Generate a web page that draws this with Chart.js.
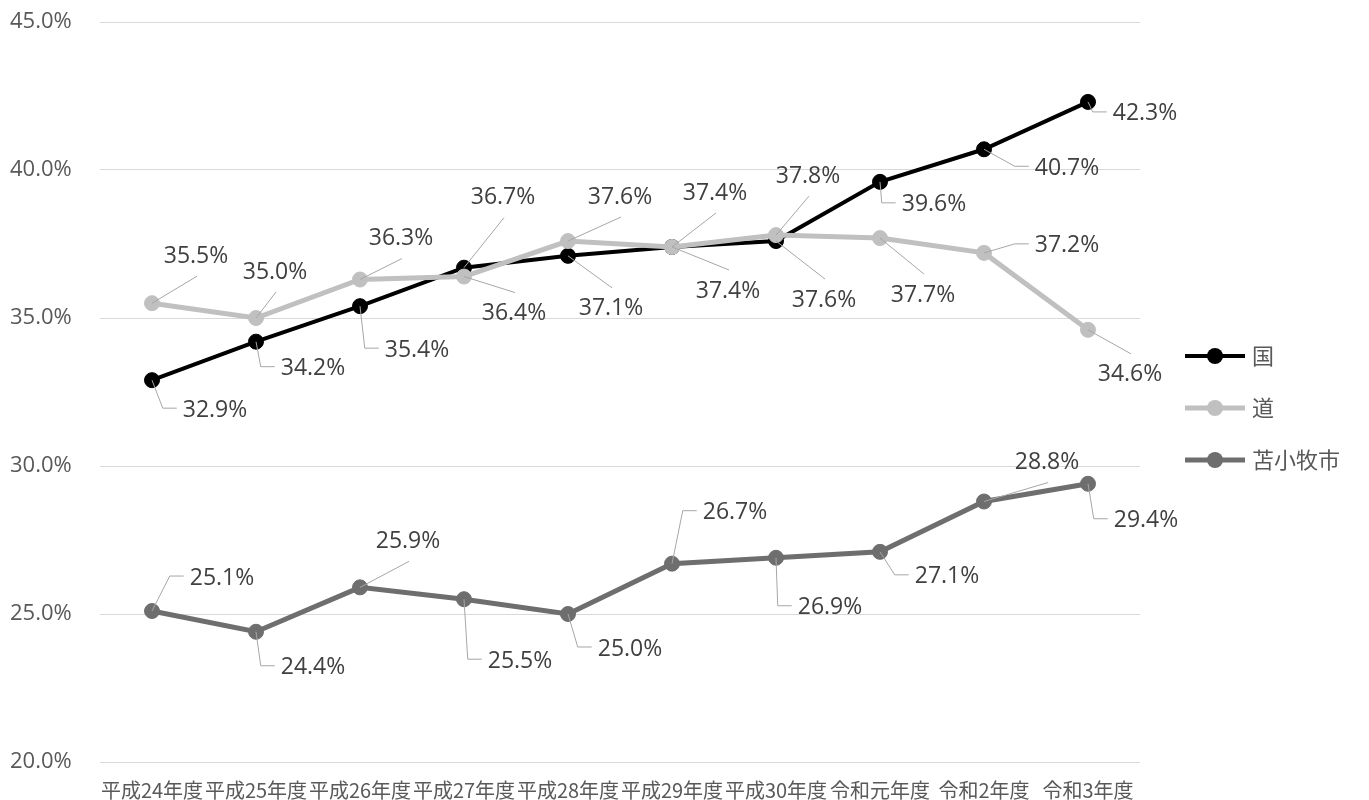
<!DOCTYPE html>
<html lang="ja">
<head>
<meta charset="utf-8">
<title>国・道・苫小牧市の推移</title>
<script src="https://cdn.jsdelivr.net/npm/chart.js@4.4.1/dist/chart.umd.min.js"></script>
<style>
    html, body { margin: 0; padding: 0; background: #fff; }
    #wrap { width: 1369px; height: 800px; }
</style>
</head>
<body>
<div id="wrap"><canvas id="chart" width="1369" height="800"></canvas></div>
<script>
// Data
const categories = ['平成24年度', '平成25年度', '平成26年度', '平成27年度', '平成28年度',
                    '平成29年度', '平成30年度', '令和元年度', '令和2年度', '令和3年度'];
const seriesNames = ['国', '道', '苫小牧市'];
const kuni = [32.9, 34.2, 35.4, 36.7, 37.1, 37.4, 37.6, 39.6, 40.7, 42.3];
const dou = [35.5, 35.0, 36.3, 36.4, 37.6, 37.4, 37.8, 37.7, 37.2, 34.6];
const tomakomai = [25.1, 24.4, 25.9, 25.5, 25.0, 26.7, 26.9, 27.1, 28.8, 29.4];
const yMin = 20;
const yMax = 45;
const yStep = 5;

const seriesColors = ['#000000', '#c0c0c0', '#6e6e6e'];
const seriesWidths = [4, 5, 5];

// Data label placement: [dx, dy, leader] relative to the point, e = elbow, d = diagonal
const labelLayout = [
    [[63, 30, 'e'], [57, 27, 'e'], [57, 44, 'e'], [39, -70, 'd'], [43, 53, 'd'],
     [43, -54, 'd'], [48, 59, 'd'], [54, 23, 'e'], [83, 19, 'e'], [57, 12, 'e']],
    [[44, -47, 'd'], [19, -46, 'd'], [41, -41, 'd'], [50, 37, 'd'], [52, -44, 'd'],
     [56, 44, 'd'], [32, -59, 'd'], [43, 57, 'd'], [83, -7, 'e'], [42, 45, 'd']],
    [[70, -33, 'e'], [57, 36, 'e'], [48, -46, 'd'], [56, 62, 'e'], [62, 35, 'e'],
     [63, -51, 'e'], [54, 50, 'e'], [67, 25, 'e'], [63, -39, 'd'], [58, 37, 'e']]
];

const LABEL_FONT = '23px "Open Sans", "Noto Sans", sans-serif';
const CJK_FONT = '"Noto Sans CJK JP", "Noto Sans", sans-serif';

/**
 * Data labels with leader lines, Excel style
 */
const leaderLabels = {
    id: 'leaderLabels',
    afterDatasetsDraw(chart) {
        const ctx = chart.ctx;
        ctx.save();
        ctx.font = LABEL_FONT;
        chart.data.datasets.forEach((ds, i) => {
            const meta = chart.getDatasetMeta(i);
            meta.data.forEach((pt, j) => {
                const [dx, dy, mode] = labelLayout[i][j];
                const text = ds.data[j].toFixed(1) + '%';
                const w = ctx.measureText(text).width;
                const lx = pt.x + dx;
                const ly = pt.y + dy;

                ctx.strokeStyle = '#a6a6a6';
                ctx.lineWidth = 1;
                ctx.beginPath();
                ctx.moveTo(pt.x, pt.y);
                if (mode === 'e') {
                    const left = lx - w / 2;
                    ctx.lineTo(left - 20, ly - 2);
                    ctx.lineTo(left - 6, ly - 2);
                } else {
                    ctx.lineTo(lx + 1, dy < 0 ? ly + 20 : ly - 21);
                }
                ctx.stroke();

                ctx.fillStyle = '#404040';
                ctx.textAlign = 'center';
                ctx.textBaseline = 'middle';
                ctx.fillText(text, lx, ly);
            });
        });
        ctx.restore();
    }
};

/**
 * Legend on the right with line + marker samples
 */
const sideLegend = {
    id: 'sideLegend',
    afterDraw(chart) {
        const ctx = chart.ctx;
        const area = chart.chartArea;
        ctx.save();
        chart.data.datasets.forEach((ds, i) => {
            const y = area.top + 334 + i * 52;
            const x0 = area.right + 45;
            ctx.strokeStyle = ds.borderColor;
            ctx.lineWidth = ds.borderWidth;
            ctx.beginPath();
            ctx.moveTo(x0, y);
            ctx.lineTo(x0 + 60, y);
            ctx.stroke();
            ctx.fillStyle = ds.pointBackgroundColor;
            ctx.beginPath();
            ctx.arc(x0 + 30, y, 8, 0, Math.PI * 2);
            ctx.fill();

            ctx.fillStyle = '#595959';
            ctx.font = '22px ' + CJK_FONT;
            ctx.textAlign = 'left';
            ctx.textBaseline = 'middle';
            ctx.fillText(ds.label, x0 + 67, y);
        });
        ctx.restore();
    }
};

function makeDataset(idx, values, order) {
    return {
        label: seriesNames[idx],
        data: values,
        borderColor: seriesColors[idx],
        backgroundColor: seriesColors[idx],
        pointBackgroundColor: seriesColors[idx],
        pointBorderColor: seriesColors[idx],
        borderWidth: seriesWidths[idx],
        pointRadius: 7.5,
        pointBorderWidth: 1,
        tension: 0,
        fill: false,
        order: order,
    };
}

new Chart(document.getElementById('chart'), {
    type: 'line',
    data: {
        labels: categories,
        datasets: [
            makeDataset(0, kuni, 2),
            makeDataset(1, dou, 1),
            makeDataset(2, tomakomai, 0),
        ],
    },
    options: {
        responsive: false,
        animation: false,
        devicePixelRatio: 1,
        layout: { padding: { top: 22, right: 229, left: 10, bottom: 0 } },
        plugins: {
            legend: { display: false },
            tooltip: { enabled: false },
        },
        scales: {
            x: {
                offset: true,
                grid: { display: false, drawTicks: false },
                border: { display: false },
                ticks: {
                    autoSkip: false,
                    maxRotation: 0,
                    minRotation: 0,
                    padding: 16,
                    color: '#595959',
                    font: { family: CJK_FONT, size: 20 },
                },
                afterFit(scale) { scale.height = 38; },
            },
            y: {
                min: yMin,
                max: yMax,
                grid: { color: '#d9d9d9', lineWidth: 1, drawTicks: false },
                border: { display: false },
                ticks: {
                    stepSize: yStep,
                    padding: 0,
                    crossAlign: 'far',
                    color: '#595959',
                    font: { family: '"Open Sans", "Noto Sans", sans-serif', size: 22 },
                    callback: v => v.toFixed(1) + '%',
                },
                afterFit(scale) { scale.width = 90; },
            },
        },
    },
    plugins: [leaderLabels, sideLegend],
});
</script>
</body>
</html>
